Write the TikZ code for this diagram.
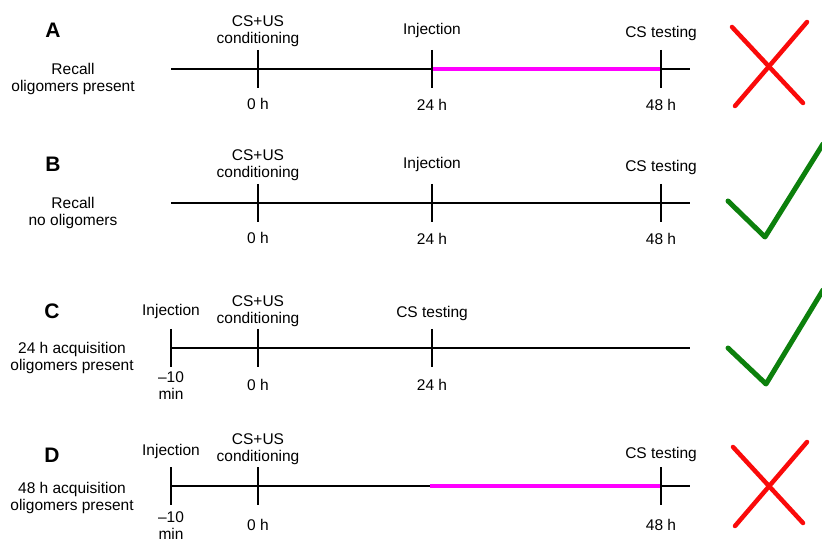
\documentclass[tikz,border=0pt]{standalone}
\usepackage{fontspec}
\setmainfont{Liberation Sans}
\usepackage{xcolor}
\usepackage{tikz}
\definecolor{okgreen}{RGB}{12,128,12}
\definecolor{oligo}{RGB}{255,0,255}
\definecolor{nogo}{RGB}{250,10,10}
\tikzset{
  every node/.style={inner sep=0pt, font=\fontsize{15.5}{17}\selectfont, align=center},
  panel/.style={font=\fontsize{21}{21}\selectfont\bfseries},
  axis/.style={line width=2pt},
  tickmark/.style={line width=2pt},
  oligoline/.style={line width=4pt, color=oligo},
  cross/.style={line width=4.5pt, color=nogo, line cap=round},
  okmark/.style={line width=5pt, color=okgreen, line cap=round, line join=round}
}
\begin{document}
\begin{tikzpicture}[x=1pt,y=-1pt]
\useasboundingbox (0,0) rectangle (822,545);
% A
\node[panel, anchor=base] (lA) at (53,38) {A};
\node (condA) at (73,79) {Recall\\oligomers present};
\coordinate (a0) at (171,69); \coordinate (a1) at (690,69);
\coordinate (aInj) at (432,69); \coordinate (aTest) at (661,69);
\draw[axis] (a0) -- (a1);
\draw[oligoline] (aInj) -- (aTest);
\draw[tickmark] (258,50) -- (258,88);
\draw[tickmark] (432,50) -- (432,88);
\draw[tickmark] (661,50) -- (661,88);
\node (csusA) at (258,31.6) {CS+US\\conditioning};
\node[anchor=base] (injA) at (432,35) {Injection};
\node[anchor=base] (testA) at (661,38) {CS testing};
\node[anchor=base] (t0A) at (258,110) {0 h};
\node[anchor=base] (t24A) at (432,111) {24 h};
\node[anchor=base] (t48A) at (661,111) {48 h};
\draw[cross] (732,27) -- (803,103);
\draw[cross] (807,22) -- (735,106);
% B
\node[panel, anchor=base] (lB) at (53,172) {B};
\node (condB) at (73,213) {Recall\\no oligomers};
\coordinate (b0) at (171,203); \coordinate (b1) at (690,203);
\draw[axis] (b0) -- (b1);
\draw[tickmark] (258,184) -- (258,222);
\draw[tickmark] (432,184) -- (432,222);
\draw[tickmark] (661,184) -- (661,222);
\node (csusB) at (258,165.6) {CS+US\\conditioning};
\node[anchor=base] (injB) at (432,169) {Injection};
\node[anchor=base] (testB) at (661,172) {CS testing};
\node[anchor=base] (t0B) at (258,244) {0 h};
\node[anchor=base] (t24B) at (432,245) {24 h};
\node[anchor=base] (t48B) at (661,245) {48 h};
\draw[okmark] (728,201) -- (765,237) -- (823,144);
% C
\node[panel, anchor=base] (lC) at (52,319) {C};
\node (condC) at (72,358) {24 h acquisition\\oligomers present};
\coordinate (c0) at (171,348); \coordinate (c1) at (690,348);
\draw[axis] (c0) -- (c1);
\draw[tickmark] (171,329) -- (171,367);
\draw[tickmark] (258,329) -- (258,367);
\draw[tickmark] (432,329) -- (432,367);
\node[anchor=base] (injC) at (171,316) {Injection};
\node (csusC) at (258,311) {CS+US\\conditioning};
\node[anchor=base] (testC) at (432,318) {CS testing};
\node (tmC) at (171,386) {--10\\min};
\node[anchor=base] (t0C) at (258,390) {0 h};
\node[anchor=base] (t24C) at (432,390) {24 h};
\draw[okmark] (728,348) -- (766,384) -- (823,290);
% D
\node[panel, anchor=base] (lD) at (52,462) {D};
\node (condD) at (72,498) {48 h acquisition\\oligomers present};
\coordinate (d0) at (171,486); \coordinate (d1) at (690,486);
\coordinate (dInj) at (430,486); \coordinate (dTest) at (661,486);
\draw[axis] (d0) -- (d1);
\draw[oligoline] (dInj) -- (dTest);
\draw[tickmark] (171,467) -- (171,505);
\draw[tickmark] (258,467) -- (258,505);
\draw[tickmark] (661,467) -- (661,505);
\node[anchor=base] (injD) at (171,455) {Injection};
\node (csusD) at (258,449) {CS+US\\conditioning};
\node[anchor=base] (testD) at (661,458) {CS testing};
\node (tmD) at (171,526) {--10\\min};
\node[anchor=base] (t0D) at (258,530) {0 h};
\node[anchor=base] (t48D) at (661,530) {48 h};
\draw[cross] (733,447) -- (803,523);
\draw[cross] (807,442) -- (735,526);
\end{tikzpicture}
\end{document}
